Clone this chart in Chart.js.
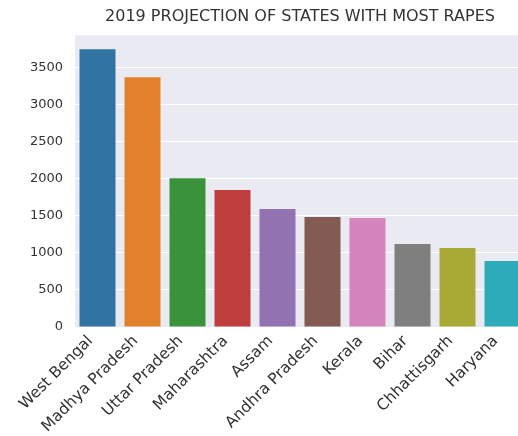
<!DOCTYPE html>
<html>
<head>
<meta charset="utf-8">
<script src="https://cdn.jsdelivr.net/npm/chart.js@4.4.1/dist/chart.umd.min.js"></script>
<style>
  html, body { margin: 0; padding: 0; background: #fff; overflow: hidden; }
  #wrap { position: absolute; left: 0; top: 0; width: 530px; height: 436px; }
</style>
</head>
<body>
<div id="wrap"><canvas id="rapeChart"></canvas></div>
<script>
const states = ["West Bengal", "Madhya Pradesh", "Uttar Pradesh", "Maharashtra", "Assam",
                "Andhra Pradesh", "Kerala", "Bihar", "Chhattisgarh", "Haryana"];
const projected = [3742, 3365, 2005, 1844, 1588, 1480, 1467, 1117, 1063, 888];
const barColors = ['#3274a1', '#e1812c', '#3a923a', '#c03d3e', '#9372b2',
                   '#845b53', '#d684bd', '#7f7f7f', '#a9aa35', '#2eabb8'];
const yTicks = [0, 500, 1000, 1500, 2000, 2500, 3000, 3500];

// seaborn darkgrid style background behind the bars
const plotBg = {
    id: 'plotBg',
    beforeDraw(chart) {
        const a = chart.chartArea;
        const ctx = chart.ctx;
        ctx.save();
        ctx.fillStyle = '#eaeaf2';
        ctx.fillRect(a.left, a.top, a.right - a.left, a.bottom - a.top);
        ctx.restore();
    }
};

Chart.defaults.font.family = "'DejaVu Sans', sans-serif";
Chart.defaults.color = '#333';

new Chart(document.getElementById('rapeChart').getContext('2d'), {
    type: 'bar',
    data: {
        labels: states,
        datasets: [{
            data: projected,
            backgroundColor: barColors,
            borderWidth: 0,
            categoryPercentage: 1.0,
            barPercentage: 0.8
        }]
    },
    options: {
        responsive: true,
        maintainAspectRatio: false,
        animation: false,
        layout: { padding: { left: 0, right: 5, top: 0, bottom: 0 } },
        plugins: {
            legend: { display: false },
            tooltip: { enabled: false },
            title: {
                display: true,
                fullSize: false,
                text: '2019 PROJECTION OF STATES WITH MOST RAPES',
                color: '#333',
                font: { size: 16, weight: 'normal' },
                padding: { top: 7, bottom: 9 }
            }
        },
        scales: {
            x: {
                grid: { display: false, drawTicks: false },
                border: { display: false },
                ticks: {
                    color: '#333',
                    font: { size: 15.5 },
                    minRotation: 45,
                    maxRotation: 45,
                    autoSkip: false,
                    padding: 5,
                    labelOffset: -7
                },
                afterFit(scale) { scale.height = 109; }
            },
            y: {
                min: 0,
                max: 3930,
                afterBuildTicks(scale) {
                    scale.ticks = yTicks.map(v => ({ value: v }));
                },
                grid: { color: '#ffffff', lineWidth: 1, drawTicks: false },
                border: { display: false },
                ticks: {
                    color: '#333',
                    font: { size: 13 },
                    padding: 12,
                    callback: v => String(v)
                },
                afterFit(scale) { scale.width = 75; }
            }
        }
    },
    plugins: [plotBg]
});
</script>
</body>
</html>
